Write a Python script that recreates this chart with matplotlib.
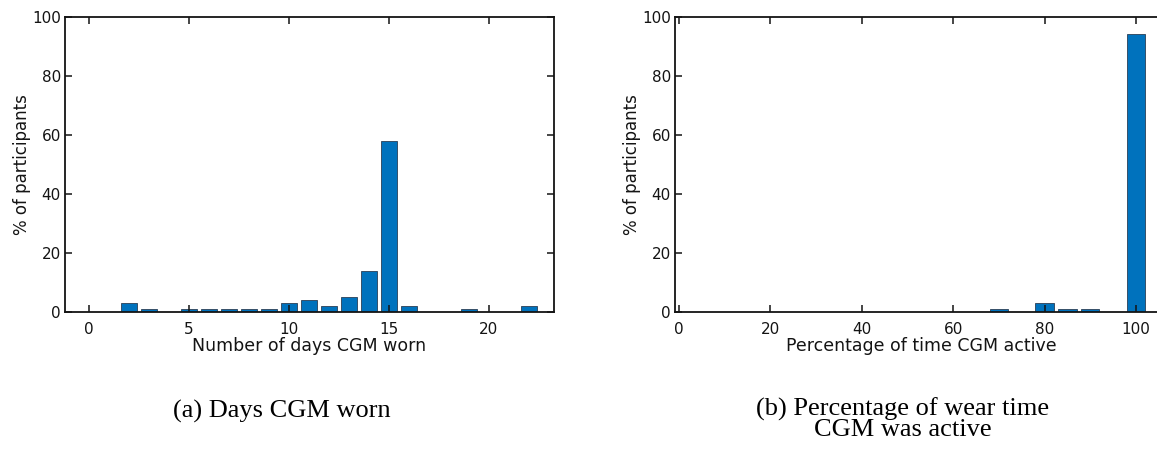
import matplotlib
matplotlib.use("Agg")
import matplotlib.pyplot as plt

# (a) days CGM worn
days = [2, 3, 5, 6, 7, 8, 9, 10, 11, 12, 13, 14, 15, 16, 19, 22]
days_pct = [3, 1, 1, 1, 1, 1, 1, 3, 4, 2, 5, 14, 58, 2, 1, 2]

# (b) percentage of wear time CGM active
active = [70, 80, 85, 90, 100]
active_pct = [1, 3, 1, 1, 94]

bar_color = "#0072BD"
edge_color = "#2b3f55"
ax_color = "#141414"

plt.rcParams["font.family"] = "DejaVu Sans"

fig = plt.figure(figsize=(11.57, 4.53), dpi=100)
ax1 = fig.add_axes([65 / 1157, 141 / 453, 489 / 1157, 295.3 / 453])
ax2 = fig.add_axes([675 / 1157, 141 / 453, 493 / 1157, 295.3 / 453])


def style(ax):
    for s in ax.spines.values():
        s.set_linewidth(1.3)
        s.set_color(ax_color)
    ax.tick_params(direction="in", length=5, width=1.1, color=ax_color,
                   labelsize=11, top=True, right=True, labelcolor=ax_color)
    ax.tick_params(axis="x", pad=7)
    ax.tick_params(axis="y", pad=3)
    ax.set_ylim(0, 100)
    ax.set_yticks(range(0, 101, 20))
    ax.set_ylabel("% of participants", fontsize=12, color=ax_color, labelpad=1)


ax1.bar(days, days_pct, width=0.8, color=bar_color, edgecolor=edge_color, linewidth=0.6)
ax1.set_xlim(-1.2, 23.25)
ax1.set_xticks([0, 5, 10, 15, 20])
style(ax1)
ax1.set_xlabel("Number of days CGM worn", fontsize=12.5, color=ax_color, labelpad=0)

ax2.bar(active, active_pct, width=4, color=bar_color, edgecolor=edge_color, linewidth=0.6)
ax2.set_xlim(-0.9, 107)
ax2.set_xticks(range(0, 101, 20))
style(ax2)
ax2.set_xlabel("Percentage of time CGM active", fontsize=12.5, color=ax_color, labelpad=0)

cap = dict(family="Liberation Serif", fontsize=19, color="black", ha="center", va="center")
fig.text(281.7 / 1157, 1 - 411 / 453, "(a) Days CGM worn", **cap)
fig.text(903 / 1157, 1 - 419 / 453, "(b) Percentage of wear time\nCGM was active",
         linespacing=0.9, multialignment="center", **cap)

fig.savefig("out.png", dpi=100)
